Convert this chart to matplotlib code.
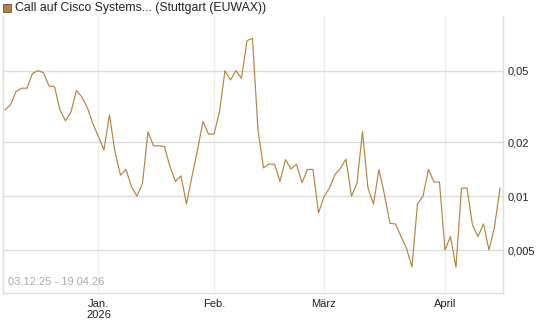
import matplotlib
matplotlib.use("Agg")
import matplotlib.pyplot as plt
import matplotlib.ticker as mticker
from matplotlib.patches import Rectangle
import pandas as pd

plt.rcParams['font.family'] = ['Liberation Sans', 'DejaVu Sans']

# trading days (Stuttgart), 03.12.25 - 17.04.26
holidays = ['2025-12-24', '2025-12-25', '2025-12-26', '2025-12-31',
            '2026-01-01', '2026-04-03', '2026-04-06']
dates = pd.bdate_range('2025-12-03', '2026-04-17')
dates = dates[~dates.isin(pd.to_datetime(holidays))]

prices = [0.0303, 0.0323, 0.0383, 0.0400, 0.0400, 0.0483, 0.0501, 0.0488, 0.0412, 0.0408,
          0.0303, 0.0263, 0.0295, 0.0388, 0.0357, 0.0310, 0.0253, 0.0215, 0.0181, 0.0284,
          0.0177, 0.0131, 0.0141, 0.0113, 0.0100, 0.0118, 0.0229, 0.0191, 0.0191, 0.0189,
          0.0146, 0.0121, 0.0130, 0.00906, 0.0129, 0.0181, 0.0261, 0.0222, 0.0222, 0.0295,
          0.0501, 0.0445, 0.0501, 0.0454, 0.0736, 0.0759, 0.0234, 0.0144, 0.0151, 0.0151,
          0.0121, 0.0160, 0.0142, 0.0151, 0.0119, 0.0141, 0.0141, 0.00807, 0.00995, 0.0111,
          0.0132, 0.0143, 0.0161, 0.0100, 0.0118, 0.0229, 0.0111, 0.00906, 0.0141, 0.0102,
          0.00706, 0.00701, 0.00597, 0.00513, 0.00404, 0.00906, 0.0100, 0.0141, 0.0120, 0.0120,
          0.00502, 0.00596, 0.00402, 0.0111, 0.0111, 0.00692, 0.00596, 0.00701, 0.00502, 0.00674,
          0.0111]

y_ticks = [0.005, 0.01, 0.02, 0.05]
y_labels = ['0,005', '0,01', '0,02', '0,05']
month_labels = {1: 'Jan.\n2026', 2: 'Feb.', 3: 'März', 4: 'April'}

fig = plt.figure(figsize=(5.45, 3.27), dpi=100)
ax = fig.add_axes([3 / 545, 1 - 293 / 327, 500 / 545, 277 / 327])

x = list(range(len(dates)))
ax.plot(x, prices, color='#b5853c', lw=0.85, zorder=3)

ax.set_yscale('log')
ax.set_ylim(0.00289, 0.101)
ax.set_xlim(-0.36, len(dates) - 1 + 0.55)

ax.yaxis.set_major_locator(mticker.FixedLocator(y_ticks))
ax.yaxis.set_major_formatter(mticker.FixedFormatter(y_labels))
ax.yaxis.set_minor_locator(mticker.NullLocator())
ax.yaxis.tick_right()

# first trading day of each month
month_pos, month_txt = [], []
for i, d in enumerate(dates):
    if i > 0 and d.month != dates[i - 1].month:
        month_pos.append(i)
        month_txt.append(month_labels[d.month])
ax.set_xticks(month_pos)
ax.set_xticklabels(month_txt)

ax.tick_params(axis='both', length=0, labelsize=8, colors='#222222')
ax.tick_params(axis='y', pad=3)
ax.tick_params(axis='x', pad=4)

ax.grid(axis='y', color='#dddddd', lw=1.0)
ax.grid(axis='x', color='#eeeeee', lw=1.0)
ax.set_axisbelow(True)

for s in ['left', 'right', 'bottom']:
    ax.spines[s].set_color('#dddddd')
    ax.spines[s].set_linewidth(1.0)
ax.spines['top'].set_visible(False)

ax.text(0.01, 0.02, '03.12.25 - 19.04.26', transform=ax.transAxes,
        fontsize=8, color='#aaaaaa', ha='left', va='bottom')

# legend-style title
fig.patches.append(Rectangle((3 / 545, 1 - 12 / 327), 8 / 545, 8 / 327,
                             transform=fig.transFigure, facecolor='#b5853c',
                             edgecolor='#555555', lw=0.6))
fig.text(15 / 545, 1 - 8 / 327, 'Call auf Cisco Systems... (Stuttgart (EUWAX))',
         fontsize=8.8, color='#222222', ha='left', va='center')

fig.savefig('out.png', dpi=100)
